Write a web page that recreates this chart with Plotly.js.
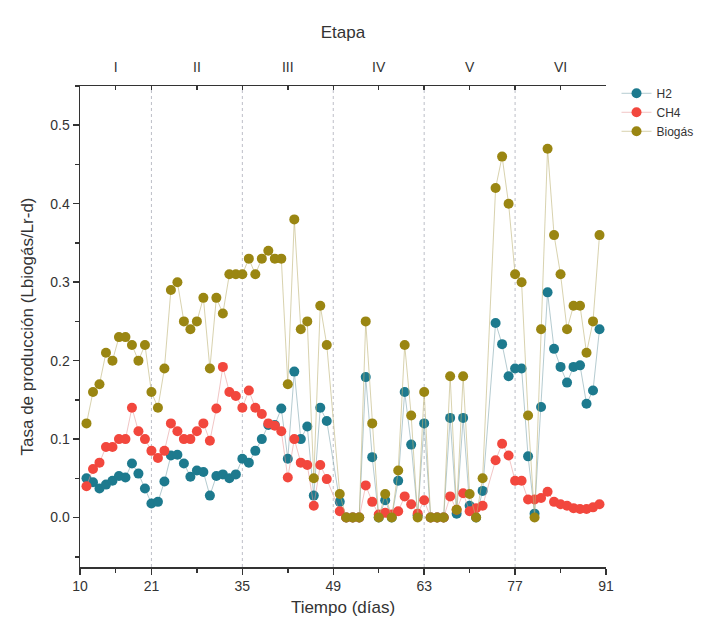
<!DOCTYPE html>
<html>
<head>
<meta charset="utf-8">
<script src="https://cdn.plot.ly/plotly-3.0.1.min.js"></script>
<style>html,body{margin:0;padding:0;background:#fff;}#chart{width:704px;height:632px;}</style>
</head>
<body>
<div id="chart"></div>
<script>
const days = [11,12,13,14,15,16,17,18,19,20,21,22,23,24,25,26,27,28,29,30,31,32,33,34,35,36,37,38,39,40,41,42,43,44,45,46,47,48,
  50,51,52,53,54,55,56,57,58,59,60,61,62,63,64,65,66,67,68,69,70,71,72,
  74,75,76,77,78,79,80,81,82,83,84,85,86,87,88,89,90];
const h2 = [0.05,0.045,0.037,0.042,0.047,0.053,0.051,0.069,0.056,0.037,
  0.018,0.02,0.046,0.079,0.08,0.069,0.052,0.06,0.058,0.028,
  0.053,0.055,0.05,0.055,0.075,0.07,0.085,0.10,0.118,0.118,
  0.139,0.075,0.186,0.10,0.116,0.028,0.14,0.123,
  0.02,0,0,0,0.179,0.077,0,0.022,0,0.047,
  0.16,0.093,0.003,0.12,0,0,0,0.127,0.005,0.127,
  0.015,0,0.034,
  0.248,0.221,0.18,0.19,0.19,0.078,0.005,0.141,0.287,0.215,
  0.192,0.172,0.192,0.194,0.145,0.162,0.24];
const ch4 = [0.04,0.062,0.07,0.09,0.09,0.10,0.10,0.14,0.11,0.10,
  0.085,0.076,0.085,0.12,0.11,0.10,0.10,0.11,0.12,0.098,
  0.139,0.192,0.16,0.155,0.14,0.162,0.14,0.132,0.12,0.117,
  0.11,0.051,0.10,0.07,0.067,0.015,0.067,0.049,
  0.008,0,0,0,0.041,0.02,0.004,0.006,0.004,0.008,
  0.027,0.017,0.005,0.022,0,0,0,0.027,0.01,0.031,
  0.008,0.012,0.015,
  0.073,0.094,0.079,0.047,0.047,0.023,0.023,0.025,0.033,0.02,
  0.017,0.015,0.012,0.011,0.011,0.013,0.017];
const biogas = [0.12,0.16,0.17,0.21,0.20,0.23,0.23,0.22,0.20,0.22,
  0.16,0.14,0.19,0.29,0.30,0.25,0.24,0.25,0.28,0.19,
  0.28,0.26,0.31,0.31,0.31,0.33,0.31,0.33,0.34,0.33,
  0.33,0.17,0.38,0.24,0.25,0.05,0.27,0.22,
  0.03,0,0,0,0.25,0.12,0,0.03,0,0.06,
  0.22,0.13,0,0.16,0,0,0,0.18,0.01,0.18,
  0.03,0,0.05,
  0.42,0.46,0.40,0.31,0.30,0.13,0,0.24,0.47,0.36,
  0.31,0.24,0.27,0.27,0.21,0.25,0.36];
const xTicks = [10,21,35,49,63,77,91];
const stageBounds = [21,35,49,63,77];
const stageMid = [15.5,28,42,56,70,84];
const stageLabels = ['I','II','III','IV','V','VI'];
const seriesNames = ['H2','CH4','Biogás'];
const yTicks = [0.0,0.1,0.2,0.3,0.4,0.5];

const colors = ['#1d7a8e','#f2473d','#9a8612'];
const lineColors = ['rgba(120,160,170,0.55)','rgba(230,150,150,0.55)','rgba(190,180,120,0.6)'];
const data = [h2, ch4, biogas];

const traces = data.map((vals, i) => ({
  x: days, y: vals, name: seriesNames[i], type: 'scatter', mode: 'lines+markers',
  line: {color: lineColors[i], width: 1},
  marker: {color: colors[i], size: 10},
  xaxis: 'x', yaxis: 'y'
}));
traces.push({x: [10, 91], y: [0, 0], xaxis: 'x2', yaxis: 'y', mode: 'markers',
  marker: {opacity: 0}, showlegend: false, hoverinfo: 'skip'});

const topVals = [];
const topText = [];
xTicks.forEach((t, i) => {
  topVals.push(t); topText.push('');
  if (i < stageMid.length) { topVals.push(stageMid[i]); topText.push(stageLabels[i]); }
});

const font = {family: 'Liberation Sans, Arial, sans-serif', color: '#333'};

const layout = {
  width: 704, height: 632,
  margin: {l: 80, r: 98, t: 86, b: 65, autoexpand: false},
  paper_bgcolor: '#fff', plot_bgcolor: '#fff',
  font: font,
  showlegend: true,
  legend: {x: 1.02, y: 1.015, xanchor: 'left', yanchor: 'top', font: {size: 12, color: '#333'},
    bgcolor: 'rgba(0,0,0,0)', tracegroupgap: 0},
  xaxis: {
    range: [10, 91], tickmode: 'array', tickvals: xTicks, ticktext: xTicks.map(String),
    showgrid: false, zeroline: false, showline: true, linecolor: '#333', linewidth: 1.5,
    ticks: 'outside', ticklen: 6, tickcolor: '#333', tickwidth: 1.5,
    minor: {tickvals: stageMid, ticks: 'outside', ticklen: 4, tickcolor: '#333', tickwidth: 1.5},
    tickfont: {size: 14, color: '#333', family: font.family},
    title: {text: 'Tiempo (días)', font: {size: 17, color: '#333', family: font.family}, standoff: 8}
  },
  xaxis2: {
    overlaying: 'x', side: 'top', anchor: 'y', range: [10, 91],
    tickmode: 'array', tickvals: topVals, ticktext: topText,
    showgrid: false, zeroline: false, showline: true, linecolor: '#333', linewidth: 1.5,
    ticks: 'inside', ticklen: 4, tickcolor: '#333', tickwidth: 1.5,
    ticklabelstandoff: 7,
    tickfont: {size: 14, color: '#333', family: font.family},
    title: {text: 'Etapa', font: {size: 17, color: '#333', family: font.family}, standoff: 16}
  },
  yaxis: {
    range: [-0.063, 0.55], tickmode: 'array', tickvals: yTicks, ticktext: yTicks.map(v => v.toFixed(1)),
    showgrid: false, zeroline: false, showline: true, linecolor: '#333', linewidth: 1.5,
    ticks: 'outside', ticklen: 6, tickcolor: '#333', tickwidth: 1.5,
    minor: {dtick: 0.05, tick0: 0, ticks: 'outside', ticklen: 4, tickcolor: '#333', tickwidth: 1.5},
    tickfont: {size: 14, color: '#333', family: font.family},
    title: {text: 'Tasa de producción (Lbiogás/Lr-d)', font: {size: 17, color: '#333', family: font.family}, standoff: 12}
  },
  shapes: stageBounds.map(b => ({
    type: 'line', xref: 'x', yref: 'paper', x0: b, x1: b, y0: 0, y1: 1,
    line: {color: 'rgba(165,168,180,0.75)', width: 1, dash: 'dot'}, layer: 'below'
  }))
};

Plotly.newPlot('chart', traces, layout, {displayModeBar: false, staticPlot: true});
</script>
</body>
</html>
